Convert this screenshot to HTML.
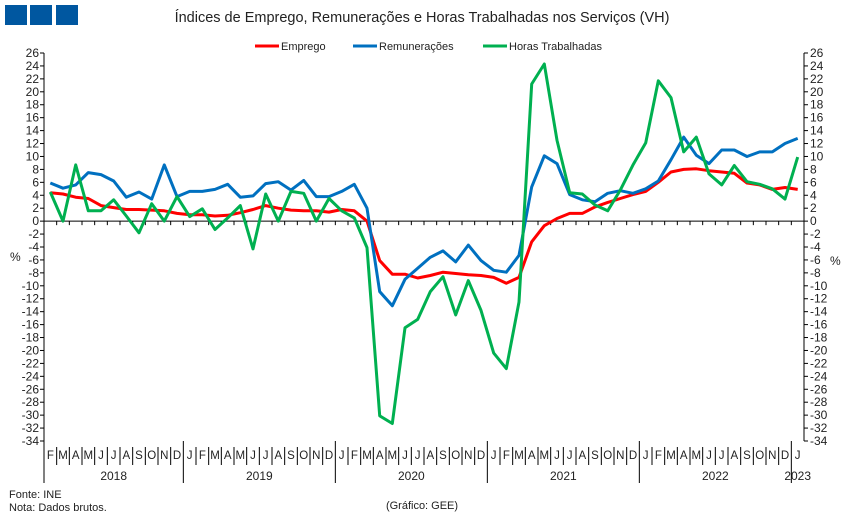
<!DOCTYPE html>
<html><head><meta charset="utf-8"><style>
body{margin:0;background:#fff;width:851px;height:520px;overflow:hidden;font-family:"Liberation Sans",sans-serif}
svg text{font-family:"Liberation Sans",sans-serif;fill:#222}
</style></head><body>
<svg id="chart" width="851" height="520" viewBox="0 0 851 520" xmlns="http://www.w3.org/2000/svg">
<g>
<rect x="5" y="5" width="22" height="20" fill="#0057a0"/><rect x="30" y="5" width="22" height="20" fill="#0057a0"/><rect x="56" y="5" width="22" height="20" fill="#0057a0"/>
</g>
<text x="422" y="22" text-anchor="middle" font-size="14.5">Índices de Emprego, Remunerações e Horas Trabalhadas nos Serviços (VH)</text>
<g font-size="11">
<g><line x1="255" y1="46" x2="279" y2="46" stroke="#ff0000" stroke-width="3"/><text x="281" y="50">Emprego</text></g>
<g><line x1="353" y1="46" x2="377" y2="46" stroke="#0070c0" stroke-width="3"/><text x="379" y="50">Remunerações</text></g>
<g><line x1="483" y1="46" x2="507" y2="46" stroke="#00b050" stroke-width="3"/><text x="509" y="50">Horas Trabalhadas</text></g>
</g>
<g id="axes"></g>
<g id="series"></g>
<text x="10" y="261" font-size="12">%</text>
<text x="830" y="265" font-size="12">%</text>
<text x="9" y="498" font-size="11">Fonte: INE</text>
<text x="9" y="511" font-size="11">Nota: Dados brutos.</text>
<text x="422" y="509" font-size="11" text-anchor="middle">(Gráfico: GEE)</text>
</svg>
<script>
const monthLabels=["F","M","A","M","J","J","A","S","O","N","D","J","F","M","A","M","J","J","A","S","O","N","D","J","F","M","A","M","J","J","A","S","O","N","D","J","F","M","A","M","J","J","A","S","O","N","D","J","F","M","A","M","J","J","A","S","O","N","D","J"];
const yearLabels=["2018","2019","2020","2021","2022","2023"];
const yearStarts=[0,11,23,35,47,59];
const yTicks=[26,24,22,20,18,16,14,12,10,8,6,4,2,0,-2,-4,-6,-8,-10,-12,-14,-16,-18,-20,-22,-24,-26,-28,-30,-32,-34];
const emprego=[4.4,4.2,3.7,3.5,2.4,2.1,1.8,1.8,1.7,1.6,1.2,1.0,1.0,0.8,0.9,1.3,1.8,2.4,2.0,1.7,1.6,1.6,1.4,1.8,1.6,0.0,-6.1,-8.2,-8.2,-8.8,-8.4,-7.9,-8.1,-8.3,-8.4,-8.7,-9.6,-8.7,-3.2,-0.7,0.4,1.2,1.2,2.2,2.9,3.5,4.1,4.6,6.0,7.6,8.0,8.1,7.8,7.6,7.4,5.9,5.6,4.9,5.2,4.9];
const remuneracoes=[5.9,5.1,5.6,7.5,7.2,6.2,3.7,4.5,3.4,8.7,3.8,4.6,4.6,4.9,5.7,3.7,3.9,5.8,6.1,4.8,6.3,3.8,3.8,4.6,5.7,2.0,-10.9,-13.1,-9.0,-7.3,-5.6,-4.6,-6.3,-3.7,-6.1,-7.6,-7.9,-5.3,5.3,10.1,8.9,4.1,3.3,3.0,4.3,4.7,4.3,5.0,6.2,9.5,13.0,10.2,8.9,11.0,11.0,10.0,10.7,10.7,12.0,12.8];
const horas=[4.5,0.0,8.7,1.6,1.6,3.3,0.8,-1.8,2.7,0.0,3.8,0.7,1.9,-1.3,0.5,2.4,-4.3,4.2,0.0,4.6,4.3,0.0,3.5,1.6,0.5,-4.1,-30.1,-31.3,-16.5,-15.2,-10.9,-8.6,-14.5,-9.2,-13.8,-20.4,-22.8,-12.5,21.2,24.3,12.5,4.4,4.2,2.5,1.6,4.8,8.7,12.1,21.7,19.1,10.7,13.0,7.3,5.6,8.6,6.1,5.7,5.0,3.4,9.9];

const NS="http://www.w3.org/2000/svg";
const L=44,R=804,T=53,B=441,yMax=26,yMin=-34;
const n=monthLabels.length, cw=(R-L)/n;
const xPos=i=>L+(i+0.5)*cw;
const xEdge=i=>L+i*cw;
const yPos=v=>T+(yMax-v)*(B-T)/(yMax-yMin);
function mk(tag,attrs,parent){const e=document.createElementNS(NS,tag);for(const k in attrs)e.setAttribute(k,attrs[k]);parent.appendChild(e);return e;}
const ax=document.getElementById('axes');
const y0=yPos(0);
let e;
e=mk('line',{x1:L,y1:T,x2:L,y2:B,stroke:'#000','stroke-width':1},ax);


e=mk('line',{x1:R,y1:T,x2:R,y2:B,stroke:'#000','stroke-width':1},ax);


e=mk('line',{x1:L,y1:y0,x2:R,y2:y0,stroke:'#000','stroke-width':1},ax);


yTicks.forEach(v=>{const y=yPos(v);
 mk('line',{x1:L-4,y1:y,x2:L,y2:y,stroke:'#000'},ax);
 mk('line',{x1:R,y1:y,x2:R+4,y2:y,stroke:'#000'},ax);
 let t=mk('text',{x:L-5,y:y+4,'text-anchor':'end','font-size':12},ax);t.textContent=String(v).replace('-','-');
 
 
 let t2=mk('text',{x:R+6,y:y+4,'font-size':12},ax);t2.textContent=String(v);
 
 
});
for(let i=1;i<n;i++){mk('line',{x1:xEdge(i),y1:y0,x2:xEdge(i),y2:y0+4,stroke:'#000'},ax);}
for(let i=0;i<n;i++){
 if(i>0&&yearStarts.indexOf(i)<0)mk('line',{x1:xEdge(i),y1:B+6,x2:xEdge(i),y2:B+24,stroke:'#000'},ax);
 let t=mk('text',{x:xPos(i),y:B+18,'text-anchor':'middle','font-size':11.5},ax);t.textContent=monthLabels[i];
 
 
}
mk('line',{x1:L,y1:B,x2:L,y2:B+42,stroke:'#000'},ax);
yearStarts.forEach((s,k)=>{
 if(s>0)mk('line',{x1:xEdge(s),y1:B,x2:xEdge(s),y2:B+42,stroke:'#000'},ax);
 const end=k+1<yearStarts.length?yearStarts[k+1]:n;
 let t=mk('text',{x:(xEdge(s)+xEdge(end))/2,y:B+39,'text-anchor':'middle','font-size':12},ax);t.textContent=yearLabels[k];
 
 
});
const sg=document.getElementById('series');
function line(vals,color,name){
 const d=vals.map((v,i)=>(i?'L':'M')+xPos(i).toFixed(1)+' '+yPos(v).toFixed(1)).join(' ');
 const p=mk('path',{d:d,fill:'none',stroke:color,'stroke-width':3,'stroke-linejoin':'round'},sg);
 
 
}
line(emprego,'#ff0000','series-emprego');
line(remuneracoes,'#0070c0','series-remuneracoes');
line(horas,'#00b050','series-horas-trabalhadas');
</script>
</body></html>
